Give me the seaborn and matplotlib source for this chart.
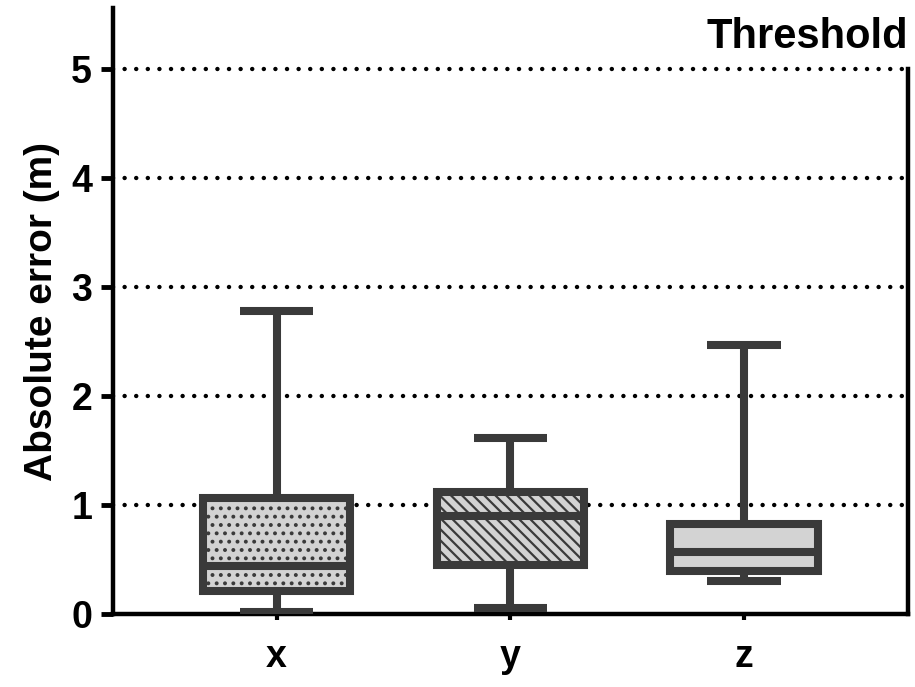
import seaborn as sns
import matplotlib.pyplot as plt
import pandas as pd

# five-number summaries: min, Q1, median, Q3, max
categories = ['x', 'y', 'z']
x_vals = [0.02, 0.21, 0.44, 1.07, 2.78]
y_vals = [0.06, 0.45, 0.90, 1.12, 1.62]
z_vals = [0.30, 0.40, 0.57, 0.83, 2.47]
y_ticks = [0, 1, 2, 3, 4, 5]
threshold = 5

sns.set_style('white')
plt.rcParams['font.family'] = ['Liberation Sans', 'DejaVu Sans']
plt.rcParams['font.weight'] = 'bold'
plt.rcParams['hatch.linewidth'] = 1.6
for k in ['text.color', 'axes.labelcolor', 'xtick.color', 'ytick.color']:
    plt.rcParams[k] = 'black'

df = pd.DataFrame({
    'axis': [c for c, v in zip(categories, [x_vals, y_vals, z_vals]) for _ in v],
    'err': x_vals + y_vals + z_vals,
})

fig = plt.figure(figsize=(9.15, 6.87), dpi=100)
ax = fig.add_axes([0.1235, 0.106, 0.8685, 0.882])

dark = '#3a3a3a'
lw = 5.8
sns.boxplot(data=df, x='axis', y='err', order=categories, whis=(0, 100),
            width=0.63, color='#d3d3d3', linecolor=dark, linewidth=lw,
            fill=True, ax=ax, zorder=3)

for patch, hatch in zip(ax.patches, ['..', '\\\\\\', '']):
    patch.set_hatch(hatch)
    patch.set_edgecolor(dark)
    patch.set_linewidth(lw)
for line in ax.lines:
    line.set_solid_capstyle('butt')
    line.set_linewidth(lw)

# dotted grid
for t in y_ticks[1:]:
    ax.axhline(t, color='black', linewidth=3.2, linestyle=(0, (0.01, 2.6)),
               dash_capstyle='round', zorder=1)

ax.set_xlim(-0.7, 2.7)
ax.set_ylim(0, 5.56)
ax.set_yticks(y_ticks)
ax.set_xlabel('')
ax.set_ylabel('Absolute error (m)', fontsize=28, fontweight='bold', labelpad=8)
ax.tick_params(axis='y', labelsize=27, length=9, width=3.5, pad=6, direction='out', left=True)
ax.tick_params(axis='x', labelsize=27, length=4, width=3, pad=14, direction='out', bottom=True)

for side in ['left', 'bottom', 'right']:
    ax.spines[side].set_linewidth(3.2)
    ax.spines[side].set_color('black')
ax.spines['top'].set_visible(False)
ax.spines['right'].set_bounds(0, threshold)

ax.text(2.7, 5.3, 'Threshold', ha='right', va='center', fontsize=30, fontweight='bold')

fig.savefig('out.png', dpi=100)
